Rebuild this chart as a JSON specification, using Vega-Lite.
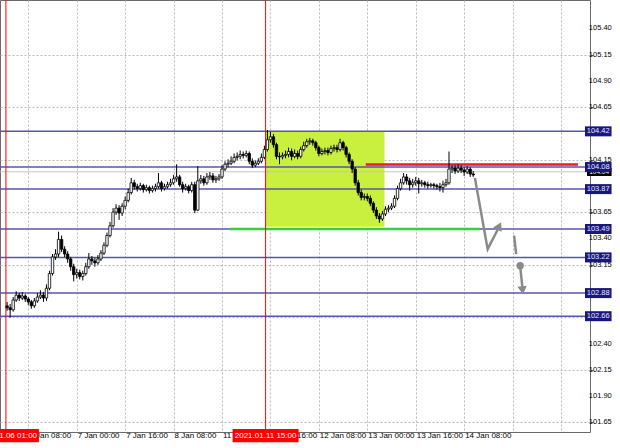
{
"$schema": "https://vega.github.io/schema/vega-lite/v6.json",
"width": 590, "height": 432,
"autosize": {"type": "none"},
"padding": {"left": 0, "top": 0, "right": 30, "bottom": 16},
"background": "white",
"config": {"view": {"stroke": "#6a6a6a", "strokeWidth": 1}, "font": "Liberation Sans", "axis": {"labelFont": "Liberation Sans"}, "text": {"font": "Liberation Sans"}},
"datasets": {
"candles": [
{"b":1,"o":102.759,"h":102.796,"l":102.712,"c":102.740},
{"b":2,"o":102.740,"h":102.777,"l":102.647,"c":102.721},
{"b":3,"o":102.721,"h":102.842,"l":102.703,"c":102.814},
{"b":4,"o":102.814,"h":102.898,"l":102.796,"c":102.861},
{"b":5,"o":102.861,"h":102.880,"l":102.805,"c":102.833},
{"b":6,"o":102.833,"h":102.889,"l":102.814,"c":102.852},
{"b":7,"o":102.852,"h":102.870,"l":102.796,"c":102.824},
{"b":8,"o":102.824,"h":102.842,"l":102.768,"c":102.796},
{"b":9,"o":102.796,"h":102.814,"l":102.731,"c":102.759},
{"b":10,"o":102.759,"h":102.833,"l":102.740,"c":102.805},
{"b":11,"o":102.805,"h":102.880,"l":102.787,"c":102.842},
{"b":12,"o":102.842,"h":102.907,"l":102.824,"c":102.861},
{"b":13,"o":102.861,"h":102.889,"l":102.796,"c":102.833},
{"b":14,"o":102.833,"h":102.963,"l":102.805,"c":102.926},
{"b":15,"o":102.926,"h":103.093,"l":102.907,"c":103.066},
{"b":16,"o":103.066,"h":103.252,"l":103.047,"c":103.224},
{"b":17,"o":103.224,"h":103.298,"l":103.196,"c":103.252},
{"b":18,"o":103.252,"h":103.465,"l":103.224,"c":103.391},
{"b":19,"o":103.391,"h":103.428,"l":103.270,"c":103.298},
{"b":20,"o":103.298,"h":103.326,"l":103.224,"c":103.252},
{"b":21,"o":103.252,"h":103.279,"l":103.168,"c":103.205},
{"b":22,"o":103.205,"h":103.224,"l":103.093,"c":103.131},
{"b":23,"o":103.131,"h":103.159,"l":102.991,"c":103.056},
{"b":24,"o":103.056,"h":103.112,"l":103.019,"c":103.075},
{"b":25,"o":103.075,"h":103.103,"l":103.010,"c":103.038},
{"b":26,"o":103.038,"h":103.093,"l":103.000,"c":103.066},
{"b":27,"o":103.066,"h":103.168,"l":103.047,"c":103.131},
{"b":28,"o":103.131,"h":103.261,"l":103.112,"c":103.205},
{"b":29,"o":103.205,"h":103.233,"l":103.149,"c":103.186},
{"b":30,"o":103.186,"h":103.214,"l":103.131,"c":103.168},
{"b":31,"o":103.168,"h":103.242,"l":103.149,"c":103.205},
{"b":32,"o":103.205,"h":103.289,"l":103.186,"c":103.261},
{"b":33,"o":103.261,"h":103.363,"l":103.242,"c":103.335},
{"b":34,"o":103.335,"h":103.456,"l":103.317,"c":103.428},
{"b":35,"o":103.428,"h":103.558,"l":103.410,"c":103.521},
{"b":36,"o":103.521,"h":103.689,"l":103.503,"c":103.651},
{"b":37,"o":103.651,"h":103.726,"l":103.624,"c":103.689},
{"b":38,"o":103.689,"h":103.717,"l":103.577,"c":103.642},
{"b":39,"o":103.642,"h":103.735,"l":103.614,"c":103.707},
{"b":40,"o":103.707,"h":103.800,"l":103.679,"c":103.763},
{"b":41,"o":103.763,"h":103.875,"l":103.744,"c":103.837},
{"b":42,"o":103.837,"h":103.977,"l":103.819,"c":103.930},
{"b":43,"o":103.930,"h":103.958,"l":103.865,"c":103.893},
{"b":44,"o":103.893,"h":103.921,"l":103.847,"c":103.875},
{"b":45,"o":103.875,"h":103.930,"l":103.856,"c":103.903},
{"b":46,"o":103.903,"h":103.921,"l":103.837,"c":103.865},
{"b":47,"o":103.865,"h":103.912,"l":103.847,"c":103.884},
{"b":48,"o":103.884,"h":103.903,"l":103.828,"c":103.856},
{"b":49,"o":103.856,"h":103.903,"l":103.837,"c":103.875},
{"b":50,"o":103.875,"h":103.921,"l":103.847,"c":103.893},
{"b":51,"o":103.893,"h":104.023,"l":103.875,"c":103.930},
{"b":52,"o":103.930,"h":103.949,"l":103.847,"c":103.875},
{"b":53,"o":103.875,"h":103.921,"l":103.856,"c":103.893},
{"b":54,"o":103.893,"h":103.940,"l":103.875,"c":103.912},
{"b":55,"o":103.912,"h":103.968,"l":103.893,"c":103.930},
{"b":56,"o":103.930,"h":104.005,"l":103.912,"c":103.968},
{"b":57,"o":103.968,"h":104.107,"l":103.940,"c":103.986},
{"b":58,"o":103.986,"h":104.005,"l":103.893,"c":103.912},
{"b":59,"o":103.912,"h":103.940,"l":103.837,"c":103.875},
{"b":60,"o":103.875,"h":103.921,"l":103.856,"c":103.893},
{"b":61,"o":103.893,"h":103.912,"l":103.828,"c":103.856},
{"b":62,"o":103.856,"h":103.940,"l":103.837,"c":103.912},
{"b":63,"o":103.912,"h":103.940,"l":103.642,"c":103.670},
{"b":64,"o":103.670,"h":104.089,"l":103.661,"c":103.949},
{"b":65,"o":103.949,"h":104.005,"l":103.921,"c":103.968},
{"b":66,"o":103.968,"h":103.996,"l":103.903,"c":103.930},
{"b":67,"o":103.930,"h":104.023,"l":103.912,"c":103.986},
{"b":68,"o":103.986,"h":104.033,"l":103.958,"c":103.996},
{"b":69,"o":103.996,"h":104.023,"l":103.930,"c":103.958},
{"b":70,"o":103.958,"h":103.996,"l":103.930,"c":103.968},
{"b":71,"o":103.968,"h":104.014,"l":103.949,"c":103.986},
{"b":72,"o":103.986,"h":104.098,"l":103.968,"c":104.061},
{"b":73,"o":104.061,"h":104.135,"l":104.042,"c":104.107},
{"b":74,"o":104.107,"h":104.154,"l":104.079,"c":104.116},
{"b":75,"o":104.116,"h":104.182,"l":104.098,"c":104.135},
{"b":76,"o":104.135,"h":104.209,"l":104.116,"c":104.172},
{"b":77,"o":104.172,"h":104.219,"l":104.144,"c":104.182},
{"b":78,"o":104.182,"h":104.237,"l":104.154,"c":104.200},
{"b":79,"o":104.200,"h":104.228,"l":104.163,"c":104.191},
{"b":80,"o":104.191,"h":104.237,"l":104.172,"c":104.209},
{"b":81,"o":104.209,"h":104.228,"l":104.107,"c":104.135},
{"b":82,"o":104.135,"h":104.163,"l":104.070,"c":104.098},
{"b":83,"o":104.098,"h":104.144,"l":104.079,"c":104.116},
{"b":84,"o":104.116,"h":104.163,"l":104.098,"c":104.135},
{"b":85,"o":104.135,"h":104.209,"l":104.116,"c":104.172},
{"b":86,"o":104.172,"h":104.284,"l":104.154,"c":104.247},
{"b":87,"o":104.247,"h":104.433,"l":104.228,"c":104.340},
{"b":88,"o":104.340,"h":104.414,"l":104.312,"c":104.368},
{"b":89,"o":104.368,"h":104.395,"l":104.265,"c":104.293},
{"b":90,"o":104.293,"h":104.312,"l":104.154,"c":104.182},
{"b":91,"o":104.182,"h":104.219,"l":104.107,"c":104.177},
{"b":92,"o":104.177,"h":104.219,"l":104.154,"c":104.191},
{"b":93,"o":104.191,"h":104.237,"l":104.163,"c":104.200},
{"b":94,"o":104.200,"h":104.265,"l":104.172,"c":104.228},
{"b":95,"o":104.228,"h":104.256,"l":104.144,"c":104.182},
{"b":96,"o":104.182,"h":104.247,"l":104.163,"c":104.209},
{"b":97,"o":104.209,"h":104.237,"l":104.154,"c":104.182},
{"b":98,"o":104.182,"h":104.274,"l":104.163,"c":104.247},
{"b":99,"o":104.247,"h":104.321,"l":104.228,"c":104.284},
{"b":100,"o":104.284,"h":104.349,"l":104.265,"c":104.321},
{"b":101,"o":104.321,"h":104.358,"l":104.293,"c":104.330},
{"b":102,"o":104.330,"h":104.349,"l":104.284,"c":104.312},
{"b":103,"o":104.312,"h":104.330,"l":104.237,"c":104.265},
{"b":104,"o":104.265,"h":104.284,"l":104.182,"c":104.209},
{"b":105,"o":104.209,"h":104.256,"l":104.191,"c":104.228},
{"b":106,"o":104.228,"h":104.265,"l":104.200,"c":104.237},
{"b":107,"o":104.237,"h":104.265,"l":104.191,"c":104.219},
{"b":108,"o":104.219,"h":104.284,"l":104.200,"c":104.256},
{"b":109,"o":104.256,"h":104.293,"l":104.228,"c":104.265},
{"b":110,"o":104.265,"h":104.293,"l":104.219,"c":104.247},
{"b":111,"o":104.247,"h":104.349,"l":104.228,"c":104.312},
{"b":112,"o":104.312,"h":104.330,"l":104.237,"c":104.265},
{"b":113,"o":104.265,"h":104.284,"l":104.172,"c":104.200},
{"b":114,"o":104.200,"h":104.219,"l":104.107,"c":104.135},
{"b":115,"o":104.135,"h":104.154,"l":104.023,"c":104.061},
{"b":116,"o":104.061,"h":104.079,"l":103.903,"c":103.930},
{"b":117,"o":103.930,"h":103.958,"l":103.810,"c":103.837},
{"b":118,"o":103.837,"h":103.865,"l":103.763,"c":103.791},
{"b":119,"o":103.791,"h":103.828,"l":103.763,"c":103.800},
{"b":120,"o":103.800,"h":103.828,"l":103.754,"c":103.782},
{"b":121,"o":103.782,"h":103.810,"l":103.707,"c":103.735},
{"b":122,"o":103.735,"h":103.754,"l":103.642,"c":103.670},
{"b":123,"o":103.670,"h":103.698,"l":103.586,"c":103.614},
{"b":124,"o":103.614,"h":103.642,"l":103.549,"c":103.586},
{"b":125,"o":103.586,"h":103.661,"l":103.568,"c":103.633},
{"b":126,"o":103.633,"h":103.707,"l":103.614,"c":103.679},
{"b":127,"o":103.679,"h":103.717,"l":103.651,"c":103.689},
{"b":128,"o":103.689,"h":103.735,"l":103.670,"c":103.707},
{"b":129,"o":103.707,"h":103.810,"l":103.689,"c":103.782},
{"b":130,"o":103.782,"h":103.903,"l":103.763,"c":103.875},
{"b":131,"o":103.875,"h":103.968,"l":103.856,"c":103.930},
{"b":132,"o":103.930,"h":104.023,"l":103.912,"c":103.986},
{"b":133,"o":103.986,"h":104.014,"l":103.912,"c":103.949},
{"b":134,"o":103.949,"h":103.977,"l":103.856,"c":103.912},
{"b":135,"o":103.912,"h":103.968,"l":103.884,"c":103.930},
{"b":136,"o":103.930,"h":103.986,"l":103.903,"c":103.949},
{"b":137,"o":103.949,"h":103.977,"l":103.828,"c":103.921},
{"b":138,"o":103.921,"h":103.958,"l":103.893,"c":103.930},
{"b":139,"o":103.930,"h":103.949,"l":103.884,"c":103.912},
{"b":140,"o":103.912,"h":103.940,"l":103.875,"c":103.903},
{"b":141,"o":103.903,"h":103.930,"l":103.884,"c":103.912},
{"b":142,"o":103.912,"h":103.930,"l":103.875,"c":103.903},
{"b":143,"o":103.903,"h":103.921,"l":103.865,"c":103.893},
{"b":144,"o":103.893,"h":103.930,"l":103.847,"c":103.884},
{"b":145,"o":103.884,"h":103.949,"l":103.837,"c":103.912},
{"b":146,"o":103.912,"h":103.968,"l":103.893,"c":103.930},
{"b":147,"o":103.930,"h":104.228,"l":103.912,"c":104.061},
{"b":148,"o":104.061,"h":104.098,"l":104.023,"c":104.070},
{"b":149,"o":104.070,"h":104.098,"l":104.014,"c":104.042},
{"b":150,"o":104.042,"h":104.107,"l":104.023,"c":104.070},
{"b":151,"o":104.070,"h":104.098,"l":104.023,"c":104.051},
{"b":152,"o":104.051,"h":104.079,"l":103.996,"c":104.033},
{"b":153,"o":104.033,"h":104.089,"l":104.014,"c":104.061},
{"b":154,"o":104.061,"h":104.079,"l":103.986,"c":104.014},
{"b":155,"o":104.014,"h":104.042,"l":103.986,"c":104.005}
],
"levels": [{"v":104.42},{"v":104.08},{"v":103.87},{"v":103.49},{"v":103.22},{"v":102.88},{"v":102.66}],
"ylabels": [{"v":105.40},{"v":105.15},{"v":104.90},{"v":104.65},{"v":104.15},{"v":103.65},{"v":103.40},{"v":103.15},{"v":102.40},{"v":102.15},{"v":101.90},{"v":101.65}],
"ticksx": [{"b":8,"t":"6 Jan 08:00"},{"b":24,"t":"7 Jan 00:00"},{"b":40,"t":"7 Jan 16:00"},{"b":56,"t":"8 Jan 08:00"},{"b":72,"t":"11 Jan 00:00"},{"b":88,"t":"11 Jan 16:00"},{"b":104,"t":"12 Jan 08:00"},{"b":120,"t":"13 Jan 00:00"},{"b":136,"t":"13 Jan 16:00"},{"b":152,"t":"14 Jan 08:00"}],
"paths": [
{"g":"a","i":0,"b":155.55,"p":103.977},
{"g":"a","i":1,"b":159.77,"p":103.298},
{"g":"a","i":2,"b":163.7,"p":103.519},
{"g":"b","i":0,"b":168.5,"p":103.428},
{"g":"b","i":1,"b":169.2,"p":103.252},
{"g":"c","i":0,"b":170.5,"p":103.140},
{"g":"c","i":1,"b":171.3,"p":102.917}
]
},
"layer": [
{
"data": {"name": "candles"},
"mark": {"type": "rule", "opacity": 0},
"encoding": {
"x": {"field": "b", "type": "quantitative", "scale": {"domain": [0.3, 191.93], "nice": false, "zero": false},
"axis": {"orient": "bottom", "title": null, "values": [8,16,24,32,40,48,56,64,72,80,88,96,104,112,120,128,136,144,152,160,168,176,184],
"labels": false, "grid": true, "gridColor": "#b8b8b8", "gridDash": [2, 2], "ticks": false, "domain": false}},
"y": {"field": "h", "type": "quantitative", "scale": {"domain": [101.605, 105.623], "nice": false, "zero": false},
"axis": {"orient": "right", "title": null, "values": [105.4,105.15,104.9,104.65,104.4,104.15,103.9,103.65,103.4,103.15,102.9,102.65,102.4,102.15,101.9,101.65],
"labels": false, "grid": true, "gridColor": "#b8b8b8", "gridDash": [2, 2], "tickSize": 3, "tickColor": "#555555", "domain": false}}
}
},
{
"data": {"values": [{"b1":86.4,"b2":125.67,"p1":104.42,"p2":103.512}]},
"mark": {"type": "rect", "color": "#c9f03f"},
"encoding": {
"x": {"field": "b1", "type": "quantitative"},
"x2": {"field": "b2"},
"y": {"field": "p1", "type": "quantitative"},
"y2": {"field": "p2"}
}
},
{
"data": {"name": "levels"},
"mark": {"type": "rule", "color": "#5656ae", "strokeWidth": 1.5},
"encoding": {"y": {"field": "v", "type": "quantitative"}}
},
{
"data": {"values": [{"v": 104.035}]},
"mark": {"type": "rule", "color": "#c4c4c4", "strokeWidth": 1},
"encoding": {"y": {"field": "v", "type": "quantitative"}}
},
{
"data": {"values": [{"b1": 74.7, "b2": 157.2, "v": 103.49}]},
"mark": {"type": "rule", "color": "#37cf3f", "strokeWidth": 2.5},
"encoding": {"x": {"field": "b1", "type": "quantitative"}, "x2": {"field": "b2"}, "y": {"field": "v", "type": "quantitative"}}
},
{
"data": {"values": [{"b1": 119.5, "b2": 189.6, "v": 104.105}]},
"mark": {"type": "rule", "color": "#ee1a1a", "strokeWidth": 2.5},
"encoding": {"x": {"field": "b1", "type": "quantitative"}, "x2": {"field": "b2"}, "y": {"field": "v", "type": "quantitative"}}
},
{
"data": {"values": [{"b": 0.6}, {"b": 86.4}]},
"mark": {"type": "rule", "color": "#ff0000", "strokeWidth": 1},
"encoding": {"x": {"field": "b", "type": "quantitative"}}
},
{
"data": {"name": "candles"},
"mark": {"type": "rule", "color": "#000000", "strokeWidth": 1},
"encoding": {"x": {"field": "b", "type": "quantitative"}, "y": {"field": "h", "type": "quantitative"}, "y2": {"field": "l"}}
},
{
"data": {"name": "candles"},
"mark": {"type": "bar", "size": 2.4, "stroke": "#000000", "strokeWidth": 0.8},
"encoding": {"x": {"field": "b", "type": "quantitative"}, "y": {"field": "o", "type": "quantitative"}, "y2": {"field": "c"},
"fill": {"condition": {"test": "datum.c >= datum.o", "value": "#ffffff"}, "value": "#000000"}}
},
{
"data": {"name": "paths"},
"mark": {"type": "line", "color": "#8a8a8a", "strokeWidth": 2.5},
"encoding": {"x": {"field": "b", "type": "quantitative"}, "y": {"field": "p", "type": "quantitative"}, "detail": {"field": "g"}, "order": {"field": "i"}}
},
{
"data": {"values": [{"b": 163.6, "p": 103.519}]},
"mark": {"type": "point", "shape": "triangle-up", "angle": 27, "filled": true, "color": "#8a8a8a", "size": 90, "opacity": 1},
"encoding": {"x": {"field": "b", "type": "quantitative"}, "y": {"field": "p", "type": "quantitative"}}
},
{
"data": {"values": [{"b": 171.3, "p": 102.907}]},
"mark": {"type": "point", "shape": "triangle-down", "angle": 354, "filled": true, "color": "#8a8a8a", "size": 90, "opacity": 1},
"encoding": {"x": {"field": "b", "type": "quantitative"}, "y": {"field": "p", "type": "quantitative"}}
},
{
"data": {"values": [{"b": 170.5, "p": 103.140}]},
"mark": {"type": "point", "shape": "circle", "filled": true, "color": "#8a8a8a", "size": 55, "opacity": 1},
"encoding": {"x": {"field": "b", "type": "quantitative"}, "y": {"field": "p", "type": "quantitative"}}
},
{
"data": {"name": "ticksx"},
"mark": {"type": "text", "color": "#000000", "fontSize": 8, "align": "left", "baseline": "middle", "dx": 1},
"encoding": {"x": {"field": "b", "type": "quantitative"}, "y": {"datum": 101.522, "type": "quantitative"}, "text": {"field": "t"}}
},
{
"data": {"name": "ylabels"},
"mark": {"type": "text", "color": "#000000", "fontSize": 7.5, "align": "left", "baseline": "middle"},
"encoding": {"x": {"datum": 193.2, "type": "quantitative"}, "y": {"field": "v", "type": "quantitative"}, "text": {"field": "v", "type": "quantitative", "format": ".2f"}}
},
{
"data": {"values": [{"v": 104.033, "t": "104.04"}]},
"mark": {"type": "bar", "size": 8, "color": "#000000"},
"encoding": {"x": {"datum": 192.6, "type": "quantitative"}, "x2": {"datum": 200.7}, "y": {"field": "v", "type": "quantitative"}}
},
{
"data": {"values": [{"v": 104.033, "t": "104.04"}]},
"mark": {"type": "text", "color": "#ffffff", "fontSize": 6.5, "align": "center", "baseline": "middle"},
"encoding": {"x": {"datum": 196.6, "type": "quantitative"}, "y": {"field": "v", "type": "quantitative"}, "text": {"field": "t"}}
},
{
"data": {"name": "levels"},
"mark": {"type": "bar", "size": 10, "color": "#17177e"},
"encoding": {"x": {"datum": 191.93, "type": "quantitative"}, "x2": {"datum": 200.7}, "y": {"field": "v", "type": "quantitative"}}
},
{
"data": {"name": "levels"},
"mark": {"type": "text", "color": "#e8e8ff", "fontSize": 7.5, "align": "center", "baseline": "middle"},
"encoding": {"x": {"datum": 196.3, "type": "quantitative"}, "y": {"field": "v", "type": "quantitative"}, "text": {"field": "v", "type": "quantitative", "format": ".2f"}}
},
{
"data": {"values": [{"b": 0.6, "t": "2021.01.06 01:00"}, {"b": 86.4, "t": "2021.01.11 15:00"}]},
"mark": {"type": "bar", "size": 66, "color": "#ff0000"},
"encoding": {"x": {"field": "b", "type": "quantitative"}, "y": {"datum": 101.586, "type": "quantitative"}, "y2": {"datum": 101.46}}
},
{
"data": {"values": [{"b": 0.6, "t": "2021.01.06 01:00"}, {"b": 86.4, "t": "2021.01.11 15:00"}]},
"mark": {"type": "text", "color": "#ffffff", "fontSize": 8, "align": "center", "baseline": "middle"},
"encoding": {"x": {"field": "b", "type": "quantitative"}, "y": {"datum": 101.522, "type": "quantitative"}, "text": {"field": "t"}}
}
]
}
